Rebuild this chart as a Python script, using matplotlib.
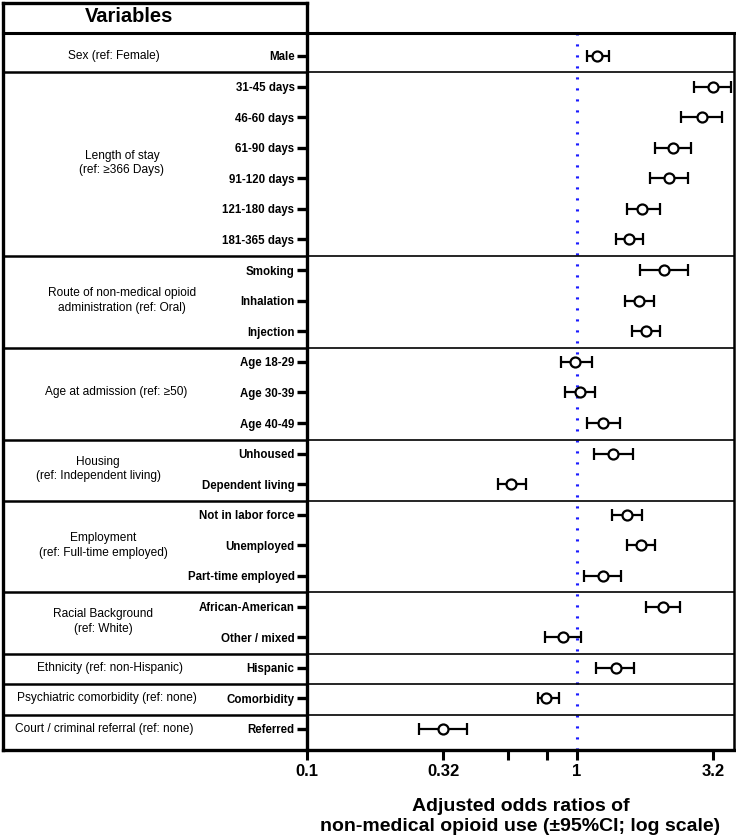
import numpy as np
import matplotlib
matplotlib.use('Agg')
import matplotlib.pyplot as plt
import matplotlib.transforms as mtransforms
from matplotlib.lines import Line2D

plt.rcParams['font.family'] = ['Liberation Sans', 'DejaVu Sans']

#row labels, top to bottom
labels = ['Male',
          '31-45 days', '46-60 days', '61-90 days', '91-120 days', '121-180 days', '181-365 days',
          'Smoking', 'Inhalation', 'Injection',
          'Age 18-29', 'Age 30-39', 'Age 40-49',
          'Unhoused', 'Dependent living',
          'Not in labor force', 'Unemployed', 'Part-time employed',
          'African-American', 'Other / mixed',
          'Hispanic', 'Comorbidity', 'Referred']

#adjusted odds ratios and 95% CI
aor = [1.19, 3.18, 2.90, 2.27, 2.20, 1.75, 1.56, 2.11, 1.70, 1.80, 0.98, 1.03, 1.25,
       1.36, 0.57, 1.53, 1.73, 1.25, 2.09, 0.89, 1.39, 0.77, 0.32]
ci_lo = [1.09, 2.72, 2.43, 1.95, 1.87, 1.53, 1.39, 1.72, 1.51, 1.60, 0.87, 0.90, 1.09,
         1.16, 0.51, 1.35, 1.53, 1.06, 1.80, 0.76, 1.18, 0.72, 0.26]
ci_hi = [1.31, 3.72, 3.46, 2.64, 2.58, 2.03, 1.76, 2.58, 1.93, 2.03, 1.14, 1.17, 1.45,
         1.61, 0.65, 1.74, 1.94, 1.46, 2.41, 1.04, 1.63, 0.86, 0.39]

group_names = ['Sex (ref: Female)',
               'Length of stay\n(ref: \u2265366 Days)',
               'Route of non-medical opioid\nadministration (ref: Oral)',
               'Age at admission (ref: \u226550)',
               'Housing\n(ref: Independent living)',
               'Employment\n(ref: Full-time employed)',
               'Racial Background\n(ref: White)',
               'Ethnicity (ref: non-Hispanic)',
               'Psychiatric comorbidity (ref: none)',
               'Court / criminal referral (ref: none)']
group_sizes = [1, 6, 3, 3, 2, 3, 2, 1, 1, 1]

xticks = [0.1, 0.32, 1, 3.2]
xticklabels = ['0.1', '0.32', '1', '3.2']

W, H = 736, 839
fig = plt.figure(figsize=(W / 100, H / 100), dpi=100)

#pixel -> figure fraction
def fx(px):
    return px / W

def fy(py):
    return 1 - py / H

ax = fig.add_axes([fx(307), fy(750), fx(734) - fx(307), fy(33) - fy(750)])

y = np.arange(len(labels))
aor = np.array(aor)
err = np.array([aor - np.array(ci_lo), np.array(ci_hi) - aor])

ax.axvline(1, color='#1a1aff', lw=2.2, ls=(0, (0.7, 2.9)), zorder=1)
ax.errorbar(aor, y, xerr=err, fmt='o', color='black', ecolor='black', elinewidth=1.6,
            capsize=4, capthick=1.6, markersize=7.2, markerfacecolor='white',
            markeredgewidth=1.6, zorder=3)

ax.set_xscale('log')
ax.set_xlim(0.1, 3.82)
ax.set_ylim(22.69, -0.75)

ax.set_xticks(xticks)
ax.set_xticklabels(xticklabels, fontsize=12, fontweight='bold')
ax.xaxis.set_minor_locator(matplotlib.ticker.FixedLocator([0.556, 0.778]))
ax.xaxis.set_minor_formatter(matplotlib.ticker.NullFormatter())
ax.tick_params(axis='x', which='both', direction='out', length=7, width=2.2, pad=3)

ax.set_yticks(y)
ax.set_yticklabels(labels, fontsize=8.3, fontweight='bold')
ax.tick_params(axis='y', direction='out', length=7, width=2.4, pad=2)

for s in ['left', 'bottom']:
    ax.spines[s].set_linewidth(2.4)
ax.spines['right'].set_linewidth(1.8)
ax.spines['top'].set_visible(False)

ax.set_xlabel('Adjusted odds ratios of\nnon-medical opioid use (\u00b195%CI; log scale)',
              fontsize=14, fontweight='bold', labelpad=14)

#table on the left
lines = [
    ([fx(3), fx(3)], [fy(3), fy(750)], 2.4),
    ([fx(3), fx(307)], [fy(3), fy(3)], 2.4),
    ([fx(307), fx(307)], [fy(3), fy(33)], 2.4),
    ([fx(3), fx(307)], [fy(750), fy(750)], 2.4),
    ([fx(3), fx(734)], [fy(33), fy(33)], 2.2),
]
for xs, ys, lw in lines:
    fig.add_artist(Line2D(xs, ys, color='black', lw=lw, transform=fig.transFigure))

fig.text(fx(129), fy(17), 'Variables', fontsize=14.5, fontweight='bold', ha='center', va='center')

#x in figure, y in data rows
trans = mtransforms.blended_transform_factory(fig.transFigure, ax.transData)
label_x = [114, 122, 122, 116, 98, 103, 103, 110, 107, 104]
start = 0
for name, n, lx in zip(group_names, group_sizes, label_x):
    mid = start + (n - 1) / 2.0
    fig.text(fx(lx), mid, name, transform=trans, fontsize=8.6, ha='center', va='center',
             multialignment='center', linespacing=1.3)
    end = start + n - 1
    if end < len(labels) - 1:
        b = end + 0.54
        fig.add_artist(Line2D([fx(3), fx(307)], [b, b], color='black', lw=1.8, transform=trans))
        fig.add_artist(Line2D([fx(307), fx(734)], [b, b], color='black', lw=1.2, transform=trans))
    start += n

plt.savefig('out.png', dpi=100)
